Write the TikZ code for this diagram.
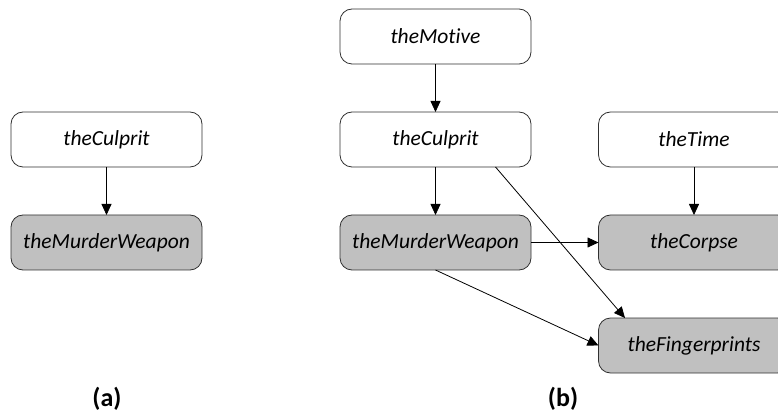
\documentclass[tikz,border=0pt]{standalone}
\usepackage{fontspec}
\setmainfont{Carlito}[Ligatures={NoCommon,NoRequired,NoContextual}]
\usetikzlibrary{arrows.meta}
\definecolor{boxgray}{HTML}{C0C0C0}
\definecolor{edgegray}{HTML}{303030}
\tikzset{
  var/.style={draw=edgegray, line width=0.8pt, rounded corners=12pt, minimum width=191pt, minimum height=55pt, inner sep=0pt, outer sep=0pt, font=\fontsize{21.5}{25}\selectfont\itshape},
  obs/.style={var, fill=boxgray},
  hid/.style={var, fill=white},
  link/.style={draw=black, line width=0.8pt, -{Triangle[length=11pt,width=10pt]}},
  caption/.style={font=\fontsize{26}{30}\selectfont\bfseries}
}
\begin{document}
\begin{tikzpicture}[x=1pt,y=-1pt]
\useasboundingbox (0,0) rectangle (778,419);
% (a)
\node[hid] (aC) at (106.5,139.5) {theCulprit};
\node[obs] (aW) at (106.5,242.5) {theMurderWeapon};
\draw[link] (aC) -- (aW);
\node[caption] (la) at (107,399) {(a)};
% (b)
\node[hid] (bM) at (435.5,36.5) {theMotive};
\node[hid] (bC) at (435.5,139.5) {theCulprit};
\node[obs] (bW) at (435.5,242.5) {theMurderWeapon};
\node[hid] (bT) at (694,139.5) {theTime};
\node[obs] (bK) at (694,242.5) {theCorpse};
\node[obs] (bF) at (694,345.5) {theFingerprints};
\draw[link] (bM) -- (bC);
\draw[link] (bC) -- (bW);
\draw[link] (bT) -- (bK);
\draw[link] (bW.east) -- (bK.west);
\draw[link] (bW.south) -- (bF.west);
\draw[link] ([xshift=60pt]bC.south) -- ([xshift=-69pt]bF.north);
\node[caption] (lb) at (563,399) {(b)};
\end{tikzpicture}
\end{document}
